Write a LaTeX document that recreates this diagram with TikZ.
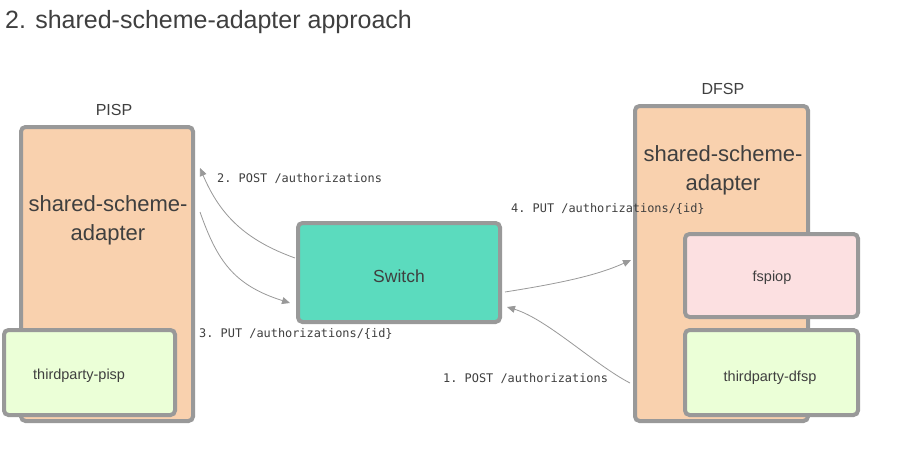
\documentclass[tikz,border=0pt]{standalone}
\usepackage{fontspec}
\setmainfont{Liberation Sans}
\setmonofont{DejaVu Sans Mono}
\usetikzlibrary{arrows.meta}
\definecolor{txt}{HTML}{3F3F3F}
\definecolor{bordergray}{HTML}{999999}
\definecolor{peach}{HTML}{F9D1AE}
\definecolor{teal}{HTML}{5BDBBE}
\definecolor{pinkfill}{HTML}{FCE0E1}
\definecolor{greenfill}{HTML}{EBFFD7}
\tikzset{
  box/.style={draw=bordergray, line width=4pt, rounded corners=4.5pt, inner sep=0pt},
  conn/.style={draw=bordergray, line width=0.8pt, -{Triangle[length=8pt,width=7pt]}},
  lbl/.style={font=\ttfamily\fontsize{11.9}{14}\selectfont, text=txt, anchor=base west, inner sep=0pt},
  txtnode/.style={text=txt, inner sep=0pt},
}
\begin{document}
\begin{tikzpicture}[x=1pt,y=-1pt]
\useasboundingbox[fill=white] (0,0) rectangle (900,452);
% title
\node[txtnode, anchor=base west, font=\fontsize{25}{30}\selectfont] (title) at (5,29) {2. shared-scheme-adapter approach};
% PISP
\node[txtnode, anchor=base, font=\fontsize{16}{19}\selectfont] (pisplbl) at (114,115) {PISP};
\node[box, fill=peach, minimum width=172pt, minimum height=294pt] (pisp) at (107,274) {};
\node[txtnode, align=center, font=\fontsize{22}{29}\selectfont] (pispssa) at (108,220.5) {shared-scheme-\\adapter};
\node[box, fill=greenfill, minimum width=171pt, minimum height=85pt] (tpp) at (89.5,372.5) {};
\node[txtnode, anchor=base west, font=\fontsize{14.5}{17}\selectfont] (tpptxt) at (33,379) {thirdparty-pisp};
% Switch
\node[box, fill=teal, minimum width=202pt, minimum height=99pt] (sw) at (399,272.5) {};
\node[txtnode, anchor=base, font=\fontsize{17.5}{21}\selectfont] (swtxt) at (399,282) {Switch};
% DFSP
\node[txtnode, anchor=base, font=\fontsize{16}{19}\selectfont] (dfsplbl) at (723,95) {DFSP};
\node[box, fill=peach, minimum width=173pt, minimum height=315pt] (dfsp) at (721.5,263.5) {};
\node[txtnode, align=center, font=\fontsize{22}{29}\selectfont] (dfspssa) at (723,170.5) {shared-scheme-\\adapter};
\node[box, fill=pinkfill, minimum width=173pt, minimum height=83pt] (fsp) at (771.5,275.5) {};
\node[txtnode, anchor=base, font=\fontsize{14.5}{17}\selectfont] (fsptxt) at (772,281) {fspiop};
\node[box, fill=greenfill, minimum width=173pt, minimum height=85pt] (tpd) at (771.5,372.5) {};
\node[txtnode, anchor=base, font=\fontsize{14.5}{17}\selectfont] (tpdtxt) at (770,381) {thirdparty-dfsp};
% connectors
\draw[conn] ([xshift=-1pt,yshift=14.5pt]sw.west) .. controls +(-50,-18) and +(20,47) .. ([xshift=5pt,yshift=106pt]pisp.east);
\draw[conn] ([xshift=5pt,yshift=62pt]pisp.east) .. controls +(17,48) and +(-57,-18) .. ([xshift=-6pt,yshift=-30.5pt]sw.west);
\draw[conn] ([xshift=3pt,yshift=-19.5pt]sw.east) .. controls +(57,-9) and +(-33,15) .. ([xshift=-2pt,yshift=3.5pt]dfsp.west);
\draw[conn] ([xshift=-3pt,yshift=-119.5pt]dfsp.west) .. controls +(-35,-18) and +(40,12) .. ([xshift=5pt,yshift=-34.5pt]sw.east);
% labels
\node[lbl] (l2) at (217,182) {2. POST /authorizations};
\node[lbl] (l3) at (199,337) {3. PUT /authorizations/\{id\}};
\node[lbl] (l4) at (511,212) {4. PUT /authorizations/\{id\}};
\node[lbl] (l1) at (443,382) {1. POST /authorizations};
\end{tikzpicture}
\end{document}
